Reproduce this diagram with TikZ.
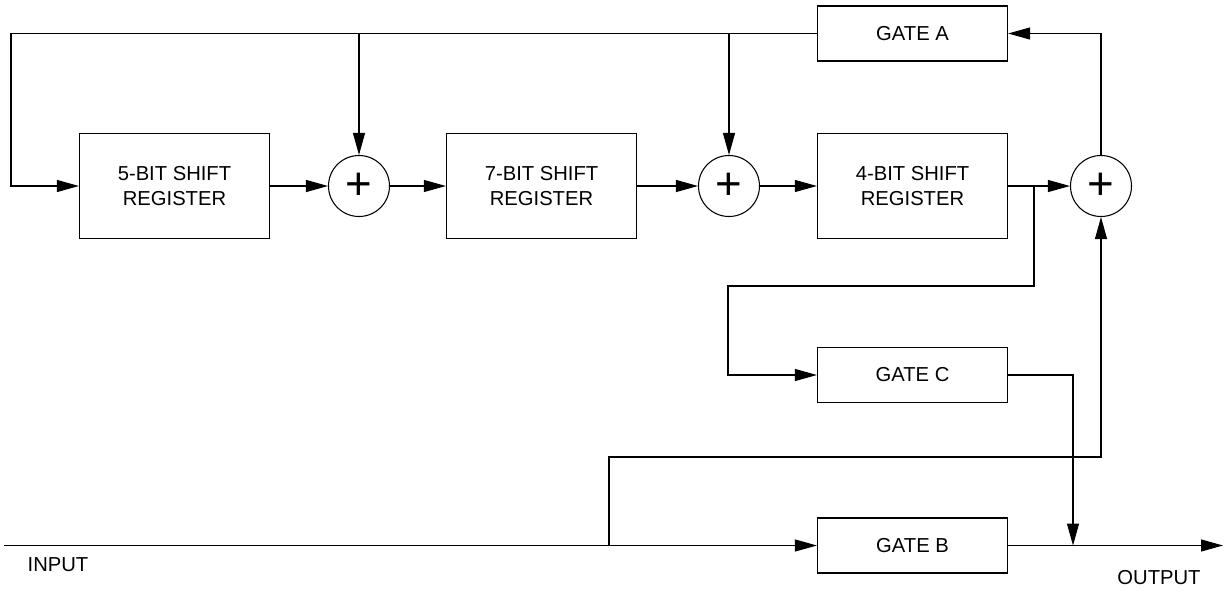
\documentclass[tikz,border=0pt]{standalone}
\usepackage{fontspec}
\setmainfont{Liberation Sans}
\usetikzlibrary{arrows.meta}
\begin{document}
\begin{tikzpicture}[x=1cm,y=1cm,
  reg/.style={draw,line width=0.7pt,minimum width=3.8cm,minimum height=2.1cm,
    align=center,font=\fontsize{11.5}{14}\selectfont},
  gate/.style={draw,line width=0.7pt,minimum width=3.8cm,minimum height=1.1cm,
    font=\fontsize{11.5}{14}\selectfont},
  sum/.style={draw,circle,line width=0.6pt,minimum size=1.22cm,inner sep=0pt,
    font=\fontsize{26}{26}\selectfont},
  arr/.style={line width=0.6pt,-{Triangle[length=4.4mm,width=2.4mm]}}]
\useasboundingbox (0,0) rectangle (24.5,11.82);
% registers and adders
\node[reg] (r5) at (3.49,8.1) {5-BIT SHIFT\\REGISTER};
\node[sum] (s1) at (7.18,8.1) {+};
\node[reg] (r7) at (10.83,8.1) {7-BIT SHIFT\\REGISTER};
\node[sum] (s2) at (14.58,8.1) {+};
\node[reg] (r4) at (18.25,8.1) {4-BIT SHIFT\\REGISTER};
\node[sum] (s3) at (22.02,8.1) {+};
% gates
\node[gate] (gA) at (18.25,11.15) {GATE A};
\node[gate] (gC) at (18.25,4.32) {GATE C};
\node[gate] (gB) at (18.25,0.91) {GATE B};
% free ends and bends
\coordinate (tl) at (0.22,11.15);
\coordinate (b1) at (20.68,8.1);
\coordinate (c1) at (14.56,6.1);
\coordinate (in) at (0.08,0.91);
\coordinate (b2) at (12.18,0.91);
\coordinate (c2) at (12.18,2.68);
\coordinate (jn) at (21.46,0.91);
\coordinate (out) at (24.46,0.91);
% main chain
\draw[arr] (r5.east) -- (s1.west);
\draw[arr] (s1.east) -- (r7.west);
\draw[arr] (r7.east) -- (s2.west);
\draw[arr] (s2.east) -- (r4.west);
\draw[arr] (r4.east) -- (s3.west);
% feedback through gate A
\draw[arr] (s3.north) |- (gA.east);
\draw[arr] (gA.west) -- (tl) |- (r5.west);
\draw[arr] (s1 |- gA.west) -- (s1.north);
\draw[arr] (s2 |- gA.west) -- (s2.north);
% gate C
\draw[arr] (b1) |- (c1) |- (gC.west);
\draw[arr] (gC.east) -| (jn);
% input, gate B and output
\draw[arr] (in) -- (gB.west);
\draw[arr] (b2) -- (c2) -| (s3.south);
\draw[arr] (gB.east) -- (out);
\node[font=\fontsize{11.5}{14}\selectfont] (inlbl) at (1.16,0.52) {INPUT};
\node[font=\fontsize{11.5}{14}\selectfont] (outlbl) at (23.18,0.26) {OUTPUT};
\end{tikzpicture}
\end{document}
